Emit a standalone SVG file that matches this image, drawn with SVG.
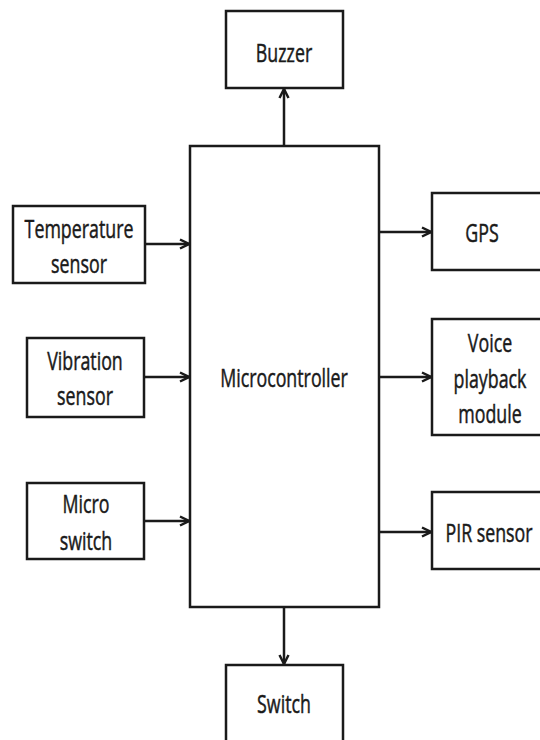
<svg xmlns="http://www.w3.org/2000/svg" width="540" height="740" viewBox="0 0 540 740">
<defs>
<marker id="arr" viewBox="0 0 10 10" refX="9" refY="5" markerWidth="4.5" markerHeight="4.5" markerUnits="strokeWidth" orient="auto">
<path d="M1,1 L9,5 L1,9" fill="none" stroke="#1a1a1a" stroke-width="2.2"/>
</marker>
</defs>
<style>
.box{fill:#fff;stroke:#1a1a1a;stroke-width:2.5}
.t{font-family:"Open Sans","Noto Sans","DejaVu Sans",sans-serif;font-size:17.8px;text-anchor:middle;fill:#1a1a1a;stroke:#1a1a1a;stroke-width:0.35}
.c{stroke:#1a1a1a;stroke-width:2.5;fill:none;marker-end:url(#arr)}
</style>
<rect width="540" height="740" fill="#fff"/>
<g id="microcontroller">
<rect class="box" x="190" y="146" width="189" height="461"/>
<text class="t" transform="translate(284,387) scale(1,1.42)">Microcontroller</text>
</g>
<g id="buzzer">
<rect class="box" x="226" y="11" width="117" height="77"/>
<text class="t" transform="translate(284,62) scale(1,1.42)">Buzzer</text>
</g>
<g id="switch">
<rect class="box" x="226" y="665" width="117" height="90"/>
<text class="t" transform="translate(284,713) scale(1,1.42)">Switch</text>
</g>
<g id="temperature">
<rect class="box" x="13" y="206" width="132" height="77"/>
<text class="t" transform="translate(79,238) scale(1,1.42)">Temperature</text>
<text class="t" transform="translate(79,273) scale(1,1.42)">sensor</text>
</g>
<g id="vibration">
<rect class="box" x="27" y="338" width="117" height="79"/>
<text class="t" transform="translate(85,370) scale(1,1.42)">Vibration</text>
<text class="t" transform="translate(85,405) scale(1,1.42)">sensor</text>
</g>
<g id="microswitch">
<rect class="box" x="27" y="483" width="117" height="76"/>
<text class="t" transform="translate(86,513) scale(1,1.42)">Micro</text>
<text class="t" transform="translate(86,550) scale(1,1.42)">switch</text>
</g>
<g id="gps">
<rect class="box" x="432" y="193" width="120" height="77"/>
<text class="t" transform="translate(482,242) scale(1,1.42)">GPS</text>
</g>
<g id="voice">
<rect class="box" x="432" y="319" width="120" height="116"/>
<text class="t" transform="translate(490,352) scale(1,1.42)">Voice</text>
<text class="t" transform="translate(490,388) scale(1,1.42)">playback</text>
<text class="t" transform="translate(490,423) scale(1,1.42)">module</text>
</g>
<g id="pir">
<rect class="box" x="432" y="492" width="120" height="77"/>
<text class="t" transform="translate(489,542) scale(1,1.42)">PIR sensor</text>
</g>
<g id="connectors">
<line class="c" x1="284" y1="146" x2="284" y2="89"/>
<line class="c" x1="284" y1="607" x2="284" y2="664"/>
<line class="c" x1="145" y1="244" x2="189" y2="244"/>
<line class="c" x1="144" y1="377" x2="189" y2="377"/>
<line class="c" x1="144" y1="521" x2="189" y2="521"/>
<line class="c" x1="379" y1="232" x2="431" y2="232"/>
<line class="c" x1="379" y1="377" x2="431" y2="377"/>
<line class="c" x1="379" y1="532" x2="431" y2="532"/>
</g>
</svg>
